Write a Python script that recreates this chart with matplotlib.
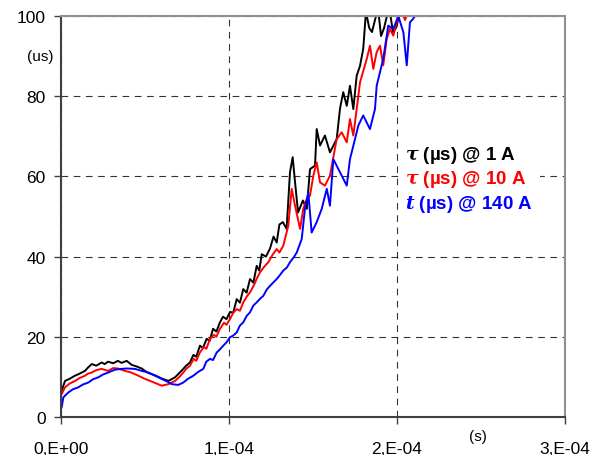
import matplotlib
matplotlib.use('Agg')
import matplotlib.pyplot as plt
from matplotlib.ticker import FixedLocator, FixedFormatter

# time in microseconds, values in us
t_1a = [0.4, 2.4, 5, 8.3, 11, 14.3, 16, 18.3, 21, 24.2, 26, 28, 31, 33.9, 36, 39.1, 42.1,
        45, 48, 51, 54, 57, 59.9, 63.9, 67.9, 70.5,
        72.8, 74.5, 76.8, 78.8, 80.5, 82.7, 84.5, 86.7, 88.5, 90.5, 92.5, 94.5, 96.4,
        98.5, 100.6, 102.5, 104.6, 106.5, 108.5, 110.5, 112.5, 114.5, 116.5, 118, 119.5,
        122, 124.4, 126.5, 128.4, 130, 132.1, 134.3, 136.3, 137.9, 139.3, 141.1, 144,
        146.3, 148.2, 151.2, 152.2, 154.2, 157.1, 160.1, 164.1, 166.1, 168, 170.1, 172,
        174, 176, 178, 179.9, 181.5, 183.5, 185.1, 186.9, 188.7, 190.5, 192.3, 194,
        195.8, 197.6, 199.4, 203, 207.7]
tau_1a = [6.6, 9, 9.5, 10.3, 10.8, 11.5, 12.3, 13.2, 12.8, 13.6, 13.2, 13.8, 13.4, 14,
          13.5, 14, 13, 12.6, 12.1, 11.2, 10.7, 10.2, 9.6, 9, 9.9, 11,
          12, 12.8, 13.6, 15.5, 15, 17.8, 17.2, 19.5, 19, 22, 21.3, 23.5, 25,
          24.4, 26.2, 26, 29.4, 28.5, 31.9, 31, 34.4, 33.5, 37.7, 36.5, 40.6,
          40, 42, 45, 43.5, 48, 48.6, 46.9, 61, 64.8, 58.6, 51, 54,
          51.9, 61.8, 62.7, 71.8, 67.7, 70.2, 66, 69.3, 77, 81, 77.6, 82.6,
          76.8, 85.1, 87.6, 91.8, 101, 97, 96, 99, 102, 95, 97, 100,
          101, 96, 97, 103, 104]

t_10a = [0.4, 2.4, 5, 8.3, 11, 14.3, 16, 18.3, 21, 24.2, 28, 31, 33.9, 38.1, 41, 44, 47,
         50, 53, 56, 59.9, 63.9, 67.9, 70.5,
         72.8, 74.5, 76.8, 79, 80.5, 82.7, 85, 86.5, 88.7, 91, 92.5, 94.6, 97, 98.5,
         100.6, 102.5, 104.6, 106.5, 108.5, 110.5, 112.5, 115, 116.5, 118.5, 121,
         123.4, 126, 128.4, 130, 132.3, 135.3, 137.3, 139.3, 142.3, 144.2, 146.3, 148.2,
         150.2, 152.2, 154.2, 157.1, 160.1, 164.1, 167.1, 170.1, 172, 174, 176, 178,
         182, 183.9, 185.9, 187.9, 189.9, 191.8, 193.9, 195.8, 197.8, 199.8, 201.8,
         204.8, 207.7]
tau_10a = [5.7, 7.4, 8.3, 9, 9.7, 10.3, 10.8, 11.1, 11.7, 12, 11.5, 12.2, 12.1, 11.5,
           11.2, 10.7, 10.1, 9.5, 9, 8.5, 7.8, 8.2, 9, 10,
           11.1, 12, 12.8, 14.5, 14, 16.1, 17.5, 17, 19.5, 20.5, 20, 22, 23.5, 23,
           24.4, 26, 26.9, 26.5, 28.6, 30, 31.1, 33, 34.5, 36.1, 37.5,
           38.6, 40.5, 41.9, 41, 42.7, 47.7, 56.9, 52.7, 46.9, 51.9, 54.4, 55.2,
           60.2, 63.5, 58.5, 57.7, 60.2, 69.3, 71, 68.5, 74.3, 70.2, 76.8, 83.5,
           89.3, 92.6, 86.8, 91, 92.6, 87.7, 94.3, 96.8, 95.1, 98.4, 102,
           99, 103]

t_140a = [0.4, 1.4, 4.3, 7, 10.3, 13, 16.3, 19, 22.2, 25, 28.2, 32.1, 36.1, 39.1, 44,
          48, 51, 54, 57, 59.9, 63, 65.9,
          69.8, 72.8, 75.5, 78.8, 81.5, 84.7, 86.5, 88.7, 90.5, 92.7, 94.5, 96.6, 98.5,
          100.6, 102.5, 104.6, 106.5, 108.5, 110.5, 112.5, 114.5, 116.5, 118.5, 120.4,
          122.5, 124.4, 126.5, 128.4, 130.5, 132.3, 134.5, 136.3, 138.5, 140.3, 143.3,
          145.2, 147.2, 149.2, 152.2, 155.2, 158.2, 160.1, 162.1, 166.1, 170.1, 172,
          175, 177, 179.9, 183.9, 186.9, 187.9, 191.8, 194.8, 197.8, 200.8, 203.8,
          205.8, 207.7, 209.6, 213.7]
tau_140a = [2.4, 4.9, 6.1, 6.9, 7.4, 8.1, 8.6, 9.4, 9.9, 10.6, 11.1, 11.8, 12, 12.1, 12,
            11.5, 11.2, 10.7, 10.1, 9.5, 8.9, 8.2,
            8, 8.6, 9.5, 10.3, 11.2, 12, 13.8, 14.5, 14.2, 16.1, 16.8, 17.8, 18.6,
            19.9, 20.3, 21.1, 22.8, 23.6, 25.2, 26.1, 27.8, 28.6, 29.5, 30.2,
            31.8, 32.7, 33.6, 34.4, 35.5, 36.5, 37.3, 38.6, 39.8, 41, 44.4,
            51.9, 56, 46, 48.6, 51.9, 56.9, 52.7, 64.3, 61, 57.7, 64.3,
            69.3, 72.7, 75.2, 71.8, 76.8, 82.6, 89.3, 97.6, 96.8, 100, 95.9,
            87.7, 98.4, 99.3, 102]

x_ticks = [0, 1e-4, 2e-4, 3e-4]
x_labels = ["0,E+00", "1,E-04", "2,E-04", "3,E-04"]
y_ticks = [0, 20, 40, 60, 80, 100]

plt.rcParams['font.family'] = ['Liberation Sans', 'DejaVu Sans']
plt.rcParams['mathtext.fontset'] = 'custom'
plt.rcParams['mathtext.it'] = 'DejaVu Serif:italic:bold'

fig = plt.figure(figsize=(6.02, 4.56), dpi=100)
ax = fig.add_axes([61 / 602, 38 / 456, 504 / 602, 401 / 456])

ax.plot([v * 1e-6 for v in t_1a], tau_1a, color="black", lw=1.4)
ax.plot([v * 1e-6 for v in t_10a], tau_10a, color="#ff0000", lw=1.4)
ax.plot([v * 1e-6 for v in t_140a], tau_140a, color="#0000ff", lw=1.4)

ax.set_xlim(0, 3e-4)
ax.set_ylim(0, 100)
ax.xaxis.set_major_locator(FixedLocator(x_ticks))
ax.xaxis.set_major_formatter(FixedFormatter(x_labels))
ax.set_yticks(y_ticks)
ax.tick_params(labelsize=12.5, length=5, width=1, color="#404040", pad=6)
ax.tick_params(axis='x', pad=12)

ax.grid(True, color="black", linestyle=(0, (6, 5)), lw=0.8, alpha=0.8)
for side in ["left", "bottom"]:
    ax.spines[side].set_color("#404040")
    ax.spines[side].set_linewidth(1.5)
for side in ["top", "right"]:
    ax.spines[side].set_color("#909090")
    ax.spines[side].set_linewidth(1.5)

fig.text(40 / 602, 1 - 57 / 456, "(us)", fontsize=11, ha="center", va="center")
fig.text(478 / 602, 1 - 437 / 456, "(s)", fontsize=11, ha="center", va="center")

# white patch behind the legend lines, like the Excel legend box
fig.patches.append(plt.Rectangle((400 / 602, 1 - 218 / 456), 140 / 602, 76 / 456,
                                 transform=fig.transFigure, facecolor="white",
                                 edgecolor="none", zorder=2))
legend_rows = [(r"$\tau$ (µs) @ 1 A", "black", 155),
               (r"$\tau$ (µs) @ 10 A", "#ff0000", 180),
               (r"$t$ (µs) @ 140 A", "#0000ff", 205)]
for label, colour, ypix in legend_rows:
    fig.text(405 / 602, 1 - ypix / 456, label, fontsize=13.5, fontweight="bold",
             color=colour, va="center", zorder=3)

fig.savefig("out.png", dpi=100)
